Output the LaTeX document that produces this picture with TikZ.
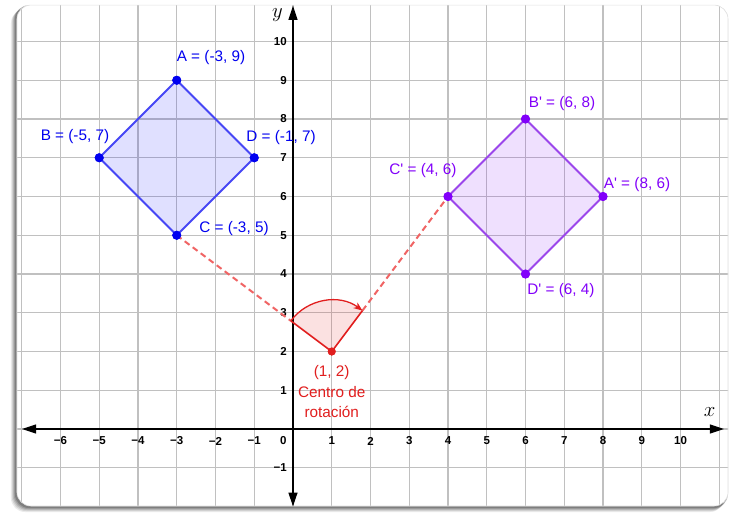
\documentclass[tikz,border=0pt]{standalone}
\usepackage{fontspec}
\setmainfont{Liberation Sans}
\usetikzlibrary{arrows.meta,calc}
\definecolor{gridc}{RGB}{192,192,192}
\definecolor{bluel}{RGB}{70,70,245}
\definecolor{bluep}{RGB}{0,0,240}
\definecolor{purl}{RGB}{155,70,235}
\definecolor{purp}{RGB}{130,0,250}
\definecolor{redc}{RGB}{225,30,30}
\definecolor{redd}{RGB}{240,100,100}
\newcommand{\pr}{\textquotesingle}
\tikzset{
  bdot/.style={circle,fill=bluep,inner sep=0pt,minimum size=9pt},
  pdot/.style={circle,fill=purp,inner sep=0pt,minimum size=9pt},
  rdot/.style={circle,fill=redc,inner sep=0pt,minimum size=8pt},
  blab/.style={text=bluep,font=\fontsize{15.3}{17}\selectfont,inner sep=0pt},
  plab/.style={text=purp,font=\fontsize{15.3}{17}\selectfont,inner sep=0pt},
  rlab/.style={text=redc,font=\fontsize{15.3}{17}\selectfont,inner sep=0pt},
  tick/.style={font=\fontsize{11.5}{13}\selectfont\bfseries,inner sep=0pt},
  axis/.style={line width=1.2pt,{Triangle[length=14pt,width=9pt]}-{Triangle[length=14pt,width=9pt]}},
  dashr/.style={redd,line width=2pt,dash pattern=on 6pt off 4pt},
}
\begin{document}
\begin{tikzpicture}[x=38.75pt,y=38.75pt]
\useasboundingbox (-7.561,-2.632) rectangle (11.303,11.071);
% shadow
\foreach \o/\a in {6/0.08,5/0.1,4/0.12,3/0.15,2/0.2}{
  \fill[black,opacity=\a,rounded corners=14pt] ([shift={(-\o pt,-\o pt)}]-7.123,-1.987) rectangle ([shift={(-\o pt+2pt,-\o pt+2pt)}]11.226,10.94);
}
\fill[white,rounded corners=14pt] (-7.123,-1.987) rectangle (11.226,10.94);
\begin{scope}
\clip[rounded corners=14pt] (-7.123,-1.987) rectangle (11.226,10.94);
\draw[gridc,line width=1.4pt,step=1] (-8,-3) grid (12,12);
\end{scope}
\draw[black!12,line width=0.6pt,rounded corners=14pt] (-7.123,-1.987) rectangle (11.226,10.94);
% axes
\coordinate (xl) at (-6.99,0);
\coordinate (xr) at (11.12,0);
\coordinate (yb) at (0,-2.0);
\coordinate (yt) at (0,10.92);
\draw[axis] (xl) -- (xr);
\draw[axis] (yb) -- (yt);
\node[font=\fontsize{22}{24}\selectfont] (xlab) at (10.75,0.43) {$x$};
\node[font=\fontsize{22}{24}\selectfont] (ylab) at (-0.40,10.67) {$y$};
% ticks
\foreach \i in {-6,-5,-4,-3,-2,-1,1,2,3,4,5,6,7,8,9,10}{
  \node[tick] (tx\i) at (\i,-0.31) {\ifnum\i<0 −\number-\i\else\i\fi};
}
\node[tick] (t0) at (-0.25,-0.31) {0};
\foreach \i in {1,...,10}{
  \node[tick,anchor=east] (ty\i) at (-0.155,\i) {\i};
}
\node[tick,anchor=east] (tym1) at (-0.155,-1) {−1};
% red rotation
\node[rdot] (O) at (1,2) {};
\coordinate (P1) at ($(1,2)+(143.13:1.32)$);
\coordinate (P2) at ($(1,2)+(53.13:1.32)$);
% blue square
\node[bdot] (A) at (-3,9) {};
\node[bdot] (B) at (-5,7) {};
\node[bdot] (C) at (-3,5) {};
\node[bdot] (D) at (-1,7) {};
\fill[blue,fill opacity=0.12] (A.center) -- (B.center) -- (C.center) -- (D.center) -- cycle;
\draw[bluel,line width=2pt,line join=round] (A.center) -- (B.center) -- (C.center) -- (D.center) -- cycle;
% purple square
\node[pdot] (Ap) at (8,6) {};
\node[pdot] (Bp) at (6,8) {};
\node[pdot] (Cp) at (4,6) {};
\node[pdot] (Dp) at (6,4) {};
\fill[purp,fill opacity=0.12] (Ap.center) -- (Bp.center) -- (Cp.center) -- (Dp.center) -- cycle;
\draw[purl,line width=2pt,line join=round] (Ap.center) -- (Bp.center) -- (Cp.center) -- (Dp.center) -- cycle;
% dashed
\draw[dashr] (C.center) -- (P1);
\draw[dashr] (P2) -- (Cp.center);
% sector
\fill[redc,fill opacity=0.13] (O.center) -- (P1) arc[start angle=143.13,end angle=53.13,radius=1.32] -- cycle;
\draw[redc,line width=1.6pt] (P1) -- (O.center) -- (P2);
\draw[redc,line width=1.3pt,-{Stealth[length=9pt,width=7pt]}] (P1) arc[start angle=143.13,end angle=53.13,radius=1.32];
\node[rdot] at (O) {};
% redraw points on top
\foreach \p in {A,B,C,D}{\node[bdot] at (\p) {};}
\foreach \p in {Ap,Bp,Cp,Dp}{\node[pdot] at (\p) {};}
% labels
\node[blab] (lA) at (-2.116,9.574) {A = (-3, 9)};
\node[blab] (lB) at (-5.626,7.535) {B = (-5, 7)};
\node[blab] (lD) at (-0.31,7.51) {D = (-1, 7)};
\node[blab] (lC) at (-1.523,5.161) {C = (-3, 5)};
\node[plab] (lBp) at (6.942,8.387) {B\pr{} = (6, 8)};
\node[plab] (lCp) at (3.355,6.658) {C\pr{} = (4, 6)};
\node[plab] (lAp) at (8.877,6.32) {A\pr{} = (8, 6)};
\node[plab] (lDp) at (6.916,3.561) {D\pr{} = (6, 4)};
\node[rlab] (lO) at (1,1.47) {(1, 2)};
\node[rlab] (lO2) at (1,0.955) {Centro de};
\node[rlab] (lO3) at (1,0.44) {rotación};
\end{tikzpicture}
\end{document}
